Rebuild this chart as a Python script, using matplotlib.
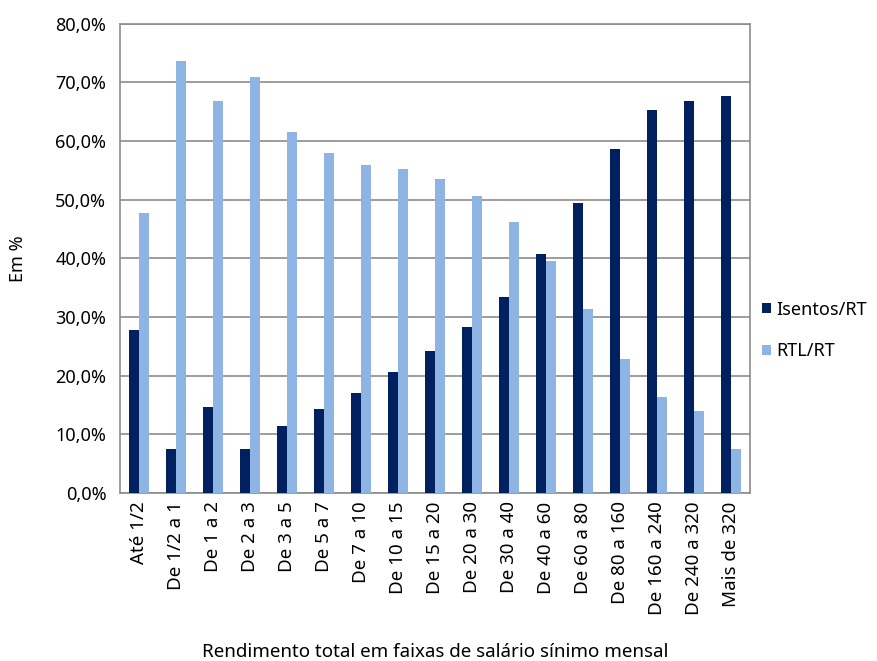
"""Isentos/RT e RTL/RT por faixa de rendimento."""

import numpy as np
import matplotlib
matplotlib.use('Agg')
import matplotlib.pyplot as plt
from matplotlib.ticker import FuncFormatter

plt.rcParams['font.family'] = ['Noto Sans', 'DejaVu Sans']

categorias = ['Até 1/2', 'De 1/2 a 1', 'De 1 a 2', 'De 2 a 3', 'De 3 a 5',
              'De 5 a 7', 'De 7 a 10', 'De 10 a 15', 'De 15 a 20', 'De 20 a 30',
              'De 30 a 40', 'De 40 a 60', 'De 60 a 80', 'De 80 a 160',
              'De 160 a 240', 'De 240 a 320', 'Mais de 320']
isentos = [27.8, 7.5, 14.6, 7.5, 11.5, 14.4, 17.0, 20.7, 24.3, 28.3,
           33.5, 40.7, 49.5, 58.7, 65.3, 66.9, 67.7]
rtl = [47.8, 73.6, 66.9, 71.0, 61.6, 58.0, 56.0, 55.2, 53.6, 50.7,
       46.2, 39.6, 31.3, 22.8, 16.3, 14.0, 7.6]

escuro = '#002060'
claro = '#8EB4E3'
cinza = '#8c8c8c'

fig = plt.figure(figsize=(8.77, 6.61), dpi=100)
ax = fig.add_axes([0.137, 0.254, 0.718, 0.71])

x = np.arange(len(categorias))
w = 0.27
ax.bar(x - w / 2, isentos, w, color=escuro, label='Isentos/RT', zorder=3)
ax.bar(x + w / 2, rtl, w, color=claro, label='RTL/RT', zorder=3)

ax.set_xlim(-0.5, len(categorias) - 0.5)
ax.set_ylim(0, 80)
ax.set_yticks(np.arange(0, 81, 10))
ax.yaxis.set_major_formatter(FuncFormatter(lambda v, p: f'{v:.1f}%'.replace('.', ',')))
ax.grid(axis='y', color=cinza, linewidth=1.2, zorder=0)
for s in ax.spines.values():
    s.set_color(cinza)
    s.set_linewidth(1.2)

ax.set_xticks(x)
ax.set_xticklabels(categorias, rotation=90, fontsize=13.5)
ax.tick_params(axis='x', length=0, pad=6)
ax.tick_params(axis='y', length=0, labelsize=13, pad=10)

ax.set_ylabel('Em %', fontsize=13, labelpad=20)
ax.set_xlabel('Rendimento total em faixas de salário sínimo mensal', fontsize=13.5, labelpad=20)

fig.legend(loc='center left', bbox_to_anchor=(0.85, 0.50), frameon=False,
           fontsize=13, handlelength=0.5, handleheight=0.5, handletextpad=0.3,
           labelspacing=1.3)

fig.savefig('out.png', dpi=100)
